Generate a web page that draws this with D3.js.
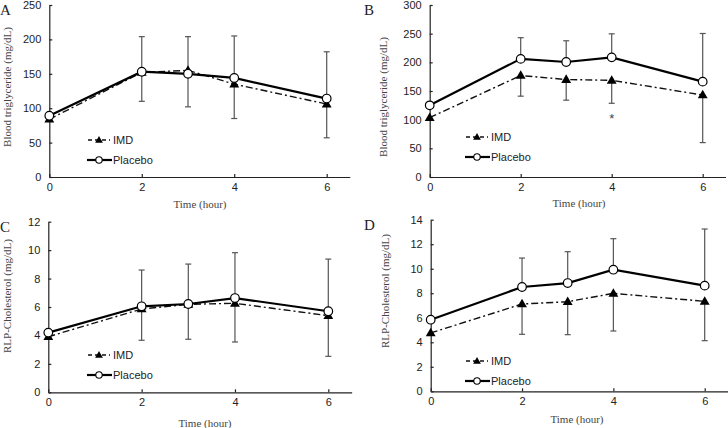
<!DOCTYPE html>
<html><head><meta charset="utf-8">
<script src="https://cdn.jsdelivr.net/npm/d3@7"></script>
<style>
body{margin:0;background:#fff;}
svg{display:block;}
.tick text{font-family:"Liberation Sans",Arial,sans-serif;font-size:11px;fill:#222;}
.tick line,.domain{stroke:#222;}
.serif{font-family:"Liberation Serif","Times New Roman",serif;}
.sans{font-family:"Liberation Sans",Arial,sans-serif;}
</style></head>
<body>
<svg id="chart" width="728" height="428"></svg>
<script>
// ---- data ----
const hours = [0, 2, 3, 4, 6];
const xTicks = [0, 2, 4, 6];

// Panel A: Blood triglyceride mg/dL
const imdA = [84, 152, 155, 135, 106];
const placeboA = [89, 153, 150, 144, 114];
const imdA_sd = [null, 42, 53, 50, 49];
const placeboA_sd = [null, 51, 54, 61, 68];

// Panel B
const imdB = [103.5, 177, 170, 168.6, 143];
const placeboB = [125, 206, 200.6, 208.7, 166.3];
const imdB_sd = [null, 36, 36, 40, 83];
const placeboB_sd = [null, 37, 37, 41, 84];

// Panel C: RLP-Cholesterol
const imdC = [3.91, 5.86, 6.19, 6.26, 5.39];
const placeboC = [4.2, 6.05, 6.21, 6.63, 5.7];
const imdC_sd = [null, 2.2, 2.46, 2.72, 2.86];
const placeboC_sd = [null, 2.55, 2.81, 3.19, 3.67];

// Panel D
const imdD = [4.76, 7.12, 7.31, 7.99, 7.34];
const placeboD = [5.84, 8.51, 8.83, 9.92, 8.62];
const imdD_sd = [null, 2.47, 2.69, 3.07, 3.21];
const placeboD_sd = [null, 2.36, 2.56, 2.53, 4.62];

const yTicksA = [0, 50, 100, 150, 200, 250];
const yTicksB = [0, 50, 100, 150, 200, 250, 300];
const yTicksC = [0, 2, 4, 6, 8, 10, 12];
const yTicksD = [0, 2, 4, 6, 8, 10, 12, 14];

const seriesNames = ["IMD", "Placebo"];
const yTitleTG = "Blood triglyceride (mg/dL)";
const yTitleRLP = "RLP-Cholesterol (mg/dL)";
const xTitle = "Time (hour)";

// ---- layout ----
const panels = [
  {letter:"A", imd:imdA, pla:placeboA, imdSd:imdA_sd, plaSd:placeboA_sd, yTicks:yTicksA, yTitle:yTitleTG,
   x0:49.3, x6:326.7, yb:177, yt:5, lx:88, ly:140, ytx:7, yty:87, xtx:200, xty:208, lettx:0, stars:[]},
  {letter:"B", imd:imdB, pla:placeboB, imdSd:imdB_sd, plaSd:placeboB_sd, yTicks:yTicksB, yTitle:yTitleTG,
   x0:429.7, x6:702.7, yb:177, yt:5, lx:466, ly:137, ytx:383, yty:97, xtx:579, xty:207, lettx:364, stars:[{t:4, v:106}]},
  {letter:"C", imd:imdC, pla:placeboC, imdSd:imdC_sd, plaSd:placeboC_sd, yTicks:yTicksC, yTitle:yTitleRLP,
   x0:48.3, x6:328.3, yb:392.3, yt:221.7, lx:88, ly:355, ytx:7, yty:296, xtx:205, xty:427, lettx:0, stars:[]},
  {letter:"D", imd:imdD, pla:placeboD, imdSd:imdD_sd, plaSd:placeboD_sd, yTicks:yTicksD, yTitle:yTitleRLP,
   x0:430.7, x6:704.7, yb:391.3, yt:219.7, lx:466, ly:361, ytx:385, yty:291, xtx:577, xty:423, lettx:364, stars:[]}
];

const svg = d3.select("#chart");
const dashIMD = "7,3,2,3";
const tri = d3.symbol().type(d3.symbolTriangle).size(42);
const triSmall = d3.symbol().type(d3.symbolTriangle).size(26);

panels.forEach(p => {
  const xMax = 6.5;
  const x = d3.scaleLinear().domain([0, xMax]).range([p.x0, p.x0 + (p.x6 - p.x0) / 6 * xMax]);
  const yMax = p.yTicks[p.yTicks.length - 1];
  const y = d3.scaleLinear().domain([0, yMax]).range([p.yb, p.yt]);
  const g = svg.append("g");

  // axes
  g.append("g").attr("transform", `translate(${p.x0},0)`)
    .call(d3.axisLeft(y).tickValues(p.yTicks).tickFormat(d3.format("d")).tickSizeInner(-3).tickSizeOuter(0).tickPadding(8))
    .call(a => a.selectAll("path,line").attr("stroke-width", 1.2));
  g.append("g").attr("transform", `translate(0,${p.yb})`)
    .call(d3.axisBottom(x).tickValues(xTicks).tickFormat(d3.format("d")).tickSizeInner(-3).tickSizeOuter(0).tickPadding(6))
    .call(a => a.selectAll("path,line").attr("stroke-width", 1.2));

  // titles
  g.append("text").attr("class", "serif").attr("x", p.lettx).attr("y", p.yt + 10)
    .attr("font-size", 15).attr("fill", "#222").text(p.letter);
  g.append("text").attr("class", "serif").attr("transform", `translate(${p.ytx + 4},${p.yty}) rotate(-90)`)
    .attr("text-anchor", "middle").attr("font-size", 11).attr("fill", "#444").text(p.yTitle);
  g.append("text").attr("class", "serif").attr("x", p.xtx).attr("y", p.xty).attr("text-anchor", "middle")
    .attr("font-size", 11).attr("fill", "#444").text(xTitle);

  // error bars
  const eb = g.append("g").attr("stroke", "#555").attr("stroke-width", 1.2);
  const drawErr = (vals, sds, dir) => {
    hours.forEach((t, i) => {
      if (sds[i] == null) return;
      const end = vals[i] + dir * sds[i];
      eb.append("line").attr("x1", x(t)).attr("x2", x(t)).attr("y1", y(vals[i])).attr("y2", y(end));
      eb.append("line").attr("x1", x(t) - 3).attr("x2", x(t) + 3).attr("y1", y(end)).attr("y2", y(end));
    });
  };
  drawErr(p.pla, p.plaSd, 1);
  drawErr(p.imd, p.imdSd, -1);

  const line = d3.line().x((d, i) => x(hours[i])).y(d => y(d));
  g.append("path").datum(p.imd).attr("d", line).attr("fill", "none").attr("stroke", "#111")
    .attr("stroke-width", 1.4).attr("stroke-dasharray", dashIMD);
  g.append("path").datum(p.pla).attr("d", line).attr("fill", "none").attr("stroke", "#000").attr("stroke-width", 2.2);

  g.selectAll(".tri").data(p.imd).join("path").attr("d", tri)
    .attr("transform", (d, i) => `translate(${x(hours[i])},${y(d) + 0.5})`).attr("fill", "#000");
  g.selectAll(".cir").data(p.pla).join("circle")
    .attr("cx", (d, i) => x(hours[i])).attr("cy", d => y(d)).attr("r", 4.3)
    .attr("fill", "#fff").attr("stroke", "#000").attr("stroke-width", 1.2);

  p.stars.forEach(s => {
    g.append("text").attr("class", "sans").attr("x", x(s.t)).attr("y", y(s.v) + 7).attr("text-anchor", "middle")
      .attr("font-size", 13).attr("fill", "#444").text("*");
  });

  // legend
  const lg = g.append("g");
  lg.append("line").attr("x1", p.lx).attr("x2", p.lx + 22).attr("y1", p.ly).attr("y2", p.ly)
    .attr("stroke", "#111").attr("stroke-width", 1.4).attr("stroke-dasharray", "4,3");
  lg.append("path").attr("d", triSmall).attr("transform", `translate(${p.lx + 11},${p.ly + 0.5})`).attr("fill", "#000");
  lg.append("text").attr("class", "sans").attr("x", p.lx + 25).attr("y", p.ly + 4)
    .attr("font-size", 11).attr("fill", "#222").text(seriesNames[0]);
  const py = p.ly + 20;
  lg.append("line").attr("x1", p.lx - 1).attr("x2", p.lx + 24).attr("y1", py).attr("y2", py)
    .attr("stroke", "#000").attr("stroke-width", 2.2);
  lg.append("circle").attr("cx", p.lx + 11).attr("cy", py).attr("r", 3.2).attr("fill", "#fff")
    .attr("stroke", "#000").attr("stroke-width", 1.1);
  lg.append("text").attr("class", "sans").attr("x", p.lx + 25).attr("y", py + 4)
    .attr("font-size", 11).attr("fill", "#222").text(seriesNames[1]);
});
</script>
</body></html>
